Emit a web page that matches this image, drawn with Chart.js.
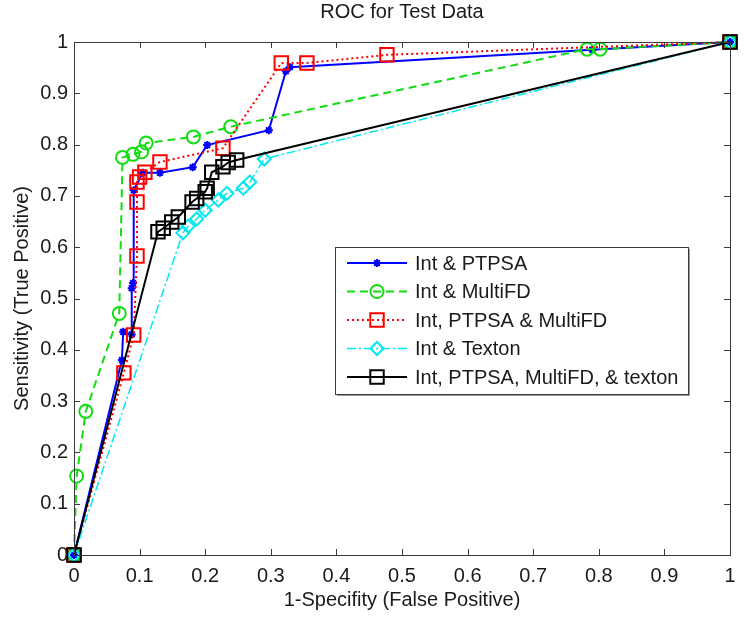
<!DOCTYPE html>
<html>
<head>
<meta charset="utf-8">
<title>ROC for Test Data</title>
<script src="https://cdn.jsdelivr.net/npm/chart.js@4.4.0/dist/chart.umd.min.js"></script>
<style>
  html, body { margin: 0; padding: 0; background: #fff; }
  #wrap { width: 748px; height: 621px; }
</style>
</head>
<body>
<div id="wrap"><canvas id="rocChart" width="748" height="621"></canvas></div>
<script>
// values (false positive rate, true positive rate)
const labels = ['Int & PTPSA', 'Int & MultiFD', 'Int, PTPSA & MultiFD', 'Int & Texton', 'Int, PTPSA, MultiFD, & texton'];

const ptpsaFpr = [0, 0.073, 0.075, 0.088, 0.088, 0.090, 0.091, 0.105, 0.131, 0.181, 0.203, 0.297, 0.323, 0.329, 0.79, 1];
const ptpsaTpr = [0, 0.380, 0.435, 0.430, 0.520, 0.530, 0.711, 0.745, 0.745, 0.756, 0.799, 0.828, 0.943, 0.951, 0.985, 1];

const multiFdFpr = [0, 0.004, 0.018, 0.069, 0.074, 0.090, 0.103, 0.110, 0.182, 0.239, 0.782, 0.802, 1];
const multiFdTpr = [0, 0.154, 0.280, 0.471, 0.775, 0.781, 0.786, 0.803, 0.815, 0.835, 0.986, 0.986, 1];

const comboFpr = [0, 0.076, 0.091, 0.096, 0.096, 0.096, 0.100, 0.108, 0.131, 0.227, 0.316, 0.355, 0.477, 1];
const comboTpr = [0, 0.355, 0.429, 0.583, 0.688, 0.727, 0.737, 0.746, 0.766, 0.793, 0.959, 0.959, 0.975, 1];

const textonFpr = [0, 0.166, 0.174, 0.187, 0.200, 0.220, 0.233, 0.258, 0.268, 0.290, 1];
const textonTpr = [0, 0.628, 0.641, 0.655, 0.672, 0.692, 0.705, 0.715, 0.727, 0.772, 1];

const allFpr = [0, 0.128, 0.136, 0.149, 0.159, 0.180, 0.187, 0.200, 0.203, 0.210, 0.227, 0.235, 0.248, 1];
const allTpr = [0, 0.630, 0.637, 0.649, 0.659, 0.688, 0.695, 0.708, 0.715, 0.746, 0.757, 0.765, 0.770, 1];

const tickValues = [0, 0.1, 0.2, 0.3, 0.4, 0.5, 0.6, 0.7, 0.8, 0.9, 1];

function toPoints(xs, ys) {
    return xs.map((x, i) => ({ x: x, y: ys[i] }));
}

const FONT = 'Liberation Sans, Arial, sans-serif';
const TEXT = '#1a1a1a';

function series(i, xs, ys, color, dash, width, style, radius, order) {
    return {
        label: labels[i],
        data: toPoints(xs, ys),
        borderColor: color,
        backgroundColor: 'rgba(0,0,0,0)',
        borderWidth: width,
        borderDash: dash,
        pointStyle: style,
        pointRadius: radius,
        pointHoverRadius: radius,
        pointBorderColor: color,
        pointBackgroundColor: 'rgba(0,0,0,0)',
        pointBorderWidth: 2,
        tension: 0,
        clip: false,
        order: order
    };
}

// matlab style box with inward ticks on all four sides
const boxPlugin = {
    id: 'boxPlugin',
    afterDraw(chart) {
        const { ctx, chartArea: a, scales } = chart;
        ctx.save();
        ctx.strokeStyle = '#3a3a3a';
        ctx.lineWidth = 1;
        ctx.strokeRect(Math.round(a.left) + 0.5, Math.round(a.top) + 0.5,
            Math.round(a.right - a.left), Math.round(a.bottom - a.top));
        ctx.beginPath();
        const len = 6;
        tickValues.forEach(v => {
            const px = Math.round(scales.x.getPixelForValue(v)) + 0.5;
            ctx.moveTo(px, a.bottom); ctx.lineTo(px, a.bottom - len);
            ctx.moveTo(px, a.top); ctx.lineTo(px, a.top + len);
            const py = Math.round(scales.y.getPixelForValue(v)) + 0.5;
            ctx.moveTo(a.left, py); ctx.lineTo(a.left + len, py);
            ctx.moveTo(a.right, py); ctx.lineTo(a.right - len, py);
        });
        ctx.stroke();
        ctx.restore();
    }
};

// legend box inside the plot, drawn from the datasets
const legendPlugin = {
    id: 'insideLegend',
    afterDraw(chart) {
        const ctx = chart.ctx;
        const left = 335, top = 247, w = 353, h = 147;
        ctx.save();
        ctx.fillStyle = '#999';
        ctx.fillRect(left + 2, top + 2, w, h);
        ctx.fillStyle = '#fff';
        ctx.fillRect(left, top, w, h);
        ctx.strokeStyle = '#3a3a3a';
        ctx.lineWidth = 1;
        ctx.strokeRect(left + 0.5, top + 0.5, w, h);
        ctx.font = '20px ' + FONT;
        ctx.textBaseline = 'middle';
        chart.data.datasets.forEach((ds, i) => {
            const y = top + 16 + i * 28.5;
            ctx.strokeStyle = ds.borderColor;
            ctx.lineWidth = ds.borderWidth;
            ctx.setLineDash(ds.borderDash || []);
            ctx.beginPath();
            ctx.moveTo(left + 12, y);
            ctx.lineTo(left + 72, y);
            ctx.stroke();
            ctx.setLineDash([]);
            ctx.lineWidth = ds.pointBorderWidth;
            ctx.fillStyle = 'rgba(0,0,0,0)';
            Chart.helpers.drawPoint(ctx, {
                pointStyle: ds.pointStyle,
                radius: ds.pointRadius,
                borderWidth: ds.pointBorderWidth,
                rotation: 0
            }, left + 42, y);
            ctx.fillStyle = TEXT;
            ctx.fillText(ds.label, left + 80, y + 1);
        });
        ctx.restore();
    }
};

const ctx = document.getElementById('rocChart').getContext('2d');
new Chart(ctx, {
    type: 'line',
    data: {
        datasets: [
            series(0, ptpsaFpr, ptpsaTpr, '#0000ff', [], 2, 'star', 4, 5),
            series(1, multiFdFpr, multiFdTpr, '#11dd11', [8, 5], 2, 'circle', 6.5, 4),
            series(2, comboFpr, comboTpr, '#ff0000', [2, 3], 2, 'rect', 9.5, 3),
            series(3, textonFpr, textonTpr, '#00e8f0', [9, 3, 2, 3], 1.5, 'rectRot', 6.5, 2),
            series(4, allFpr, allTpr, '#000000', [], 2, 'rect', 9.5, 1)
        ]
    },
    options: {
        responsive: false,
        animation: false,
        events: [],
        layout: { padding: { top: 0, right: 18, bottom: 0, left: 0 } },
        plugins: {
            legend: { display: false },
            tooltip: { enabled: false },
            title: {
                display: true,
                fullSize: false,
                text: 'ROC for Test Data',
                color: TEXT,
                font: { family: FONT, size: 20, weight: 'normal' },
                padding: { top: 0, bottom: 18 }
            }
        },
        scales: {
            x: {
                type: 'linear',
                min: 0,
                max: 1,
                afterFit: s => { s.height = 66; },
                afterBuildTicks: s => { s.ticks = tickValues.map(v => ({ value: v })); },
                grid: { display: false, drawTicks: false },
                border: { display: false },
                ticks: {
                    padding: 9,
                    color: TEXT,
                    font: { family: FONT, size: 20 },
                    maxRotation: 0,
                    callback: v => String(Number(v.toFixed(1)))
                },
                title: {
                    display: true,
                    text: '1-Specifity (False Positive)',
                    color: TEXT,
                    font: { family: FONT, size: 20 },
                    padding: { top: 9, bottom: 9 }
                }
            },
            y: {
                type: 'linear',
                min: 0,
                max: 1,
                afterFit: s => { s.width = 74; },
                afterBuildTicks: s => { s.ticks = tickValues.map(v => ({ value: v })); },
                grid: { display: false, drawTicks: false },
                border: { display: false },
                ticks: {
                    padding: 6,
                    color: TEXT,
                    font: { family: FONT, size: 20 },
                    callback: v => String(Number(v.toFixed(1)))
                },
                title: {
                    display: true,
                    text: 'Sensitivity (True Positive)',
                    color: TEXT,
                    font: { family: FONT, size: 20 },
                    padding: { top: 10, bottom: 0 }
                }
            }
        }
    },
    plugins: [boxPlugin, legendPlugin]
});
</script>
</body>
</html>
